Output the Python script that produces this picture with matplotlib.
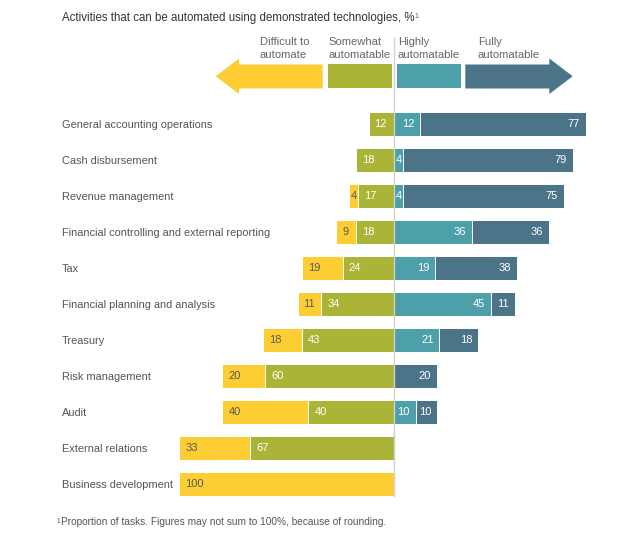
import numpy as np
import matplotlib
matplotlib.use("Agg")
import matplotlib.pyplot as plt
from matplotlib.patches import Polygon, Rectangle

plt.rcParams['font.family'] = ['Liberation Sans', 'DejaVu Sans']

# data
categories = ["General accounting operations", "Cash disbursement", "Revenue management",
              "Financial controlling and external reporting", "Tax",
              "Financial planning and analysis", "Treasury", "Risk management", "Audit",
              "External relations", "Business development"]
difficult = [0, 0, 4, 9, 19, 11, 18, 20, 40, 33, 100]
somewhat = [12, 18, 17, 18, 24, 34, 43, 60, 40, 67, 0]
highly = [12, 4, 4, 36, 19, 45, 21, 0, 10, 0, 0]
fully = [77, 79, 75, 36, 38, 11, 18, 20, 10, 0, 0]

col_diff = "#fcce33"
col_some = "#aab436"
col_high = "#4d9faa"
col_full = "#4b7489"

title = "Activities that can be automated using demonstrated technologies, %"
footnote = "Proportion of tasks. Figures may not sum to 100%, because of rounding."

# layout: 2.15 px per percentage point, zero line at x=394 px, rows 36 px apart
X0, PXU = 394.3, 2.15
Y0, ROW = 124.3, 36.0
W, H = 623, 541


def px2x(px):
    return (px - X0) / PXU


def px2y(py):
    return (py - Y0) / ROW


fig = plt.figure(figsize=(W / 100, H / 100), dpi=100)
ax = fig.add_axes([0, 0, 1, 1])
ax.set_xlim(px2x(0), px2x(W))
ax.set_ylim(px2y(H), px2y(0))
ax.axis('off')

y = np.arange(len(categories))
diff = np.array(difficult)
some = np.array(somewhat)
high = np.array(highly)
full = np.array(fully)
bh = 24 / ROW

# center line
ax.plot([0, 0], [px2y(38), px2y(496)], color="#d0d0d0", lw=1, zorder=2.5)

kw = dict(height=bh, edgecolor="white", linewidth=0.7, zorder=2)
ax.barh(y, -some, left=0, color=col_some, **kw)
ax.barh(y, -diff, left=-some, color=col_diff, **kw)
ax.barh(y, high, left=0, color=col_high, **kw)
ax.barh(y, full, left=high, color=col_full, **kw)

pad = 6 / PXU
fs = 8.0


def seg_label(val, start, end, yy, color, side):
    if val == 0:
        return
    width = abs(end - start)
    if width * PXU < 14:
        ax.text((start + end) / 2, yy, str(val), ha='center', va='center',
                fontsize=fs, color=color, zorder=3)
    elif side == 'left':
        ax.text(min(start, end) + pad, yy, str(val), ha='left', va='center',
                fontsize=fs, color=color, zorder=3)
    else:
        ax.text(max(start, end) - pad, yy, str(val), ha='right', va='center',
                fontsize=fs, color=color, zorder=3)


for i in range(len(categories)):
    seg_label(diff[i], -some[i] - diff[i], -some[i], y[i], "#5a5a5a", 'left')
    seg_label(some[i], -some[i], 0, y[i], "white", 'left')
    seg_label(high[i], 0, high[i], y[i], "white", 'right')
    seg_label(full[i], high[i], high[i] + full[i], y[i], "white", 'right')
    ax.text(px2x(62), y[i] + 0.03, categories[i], ha='left', va='center',
            fontsize=7.9, color="#555555")

# header arrows (legend)
yt, yb = px2y(58.5), px2y(94)
bt, bb = px2y(64.5), px2y(88.5)
ax.add_patch(Polygon([[px2x(215.7), (yt + yb) / 2], [px2x(239), yt], [px2x(239), bt],
                      [px2x(322.7), bt], [px2x(322.7), bb], [px2x(239), bb],
                      [px2x(239), yb]], closed=True, color=col_diff, lw=0))
ax.add_patch(Rectangle((px2x(327.7), bt), px2x(391.7) - px2x(327.7), bb - bt,
                       color=col_some, lw=0))
ax.add_patch(Rectangle((px2x(396.7), bt), px2x(460.7) - px2x(396.7), bb - bt,
                       color=col_high, lw=0))
ax.add_patch(Polygon([[px2x(465.3), bt], [px2x(549.3), bt], [px2x(549.3), yt],
                      [px2x(572.7), (yt + yb) / 2], [px2x(549.3), yb], [px2x(549.3), bb],
                      [px2x(465.3), bb]], closed=True, color=col_full, lw=0))

head_labels = ["Difficult to\nautomate", "Somewhat\nautomatable", "Highly\nautomatable",
               "Fully\nautomatable"]
head_x = [260, 328.7, 398, 477.7]
for lab, hx in zip(head_labels, head_x):
    ax.text(px2x(hx), px2y(37), lab, ha='left', va='top', fontsize=8.1,
            color="#666666", linespacing=1.35)

t = ax.text(px2x(62), px2y(18), title, ha='left', va='center', fontsize=8.3,
            color="#333333")
ax.annotate("1", xy=(1, 1), xycoords=t, xytext=(-0.3, -1), textcoords='offset points',
            ha='left', va='top', fontsize=5, color="#555555")

f = ax.text(px2x(61), px2y(522), footnote, ha='left', va='center', fontsize=7.3,
            color="#555555")
ax.annotate("1", xy=(0, 1), xycoords=f, xytext=(-0.3, -0.5), textcoords='offset points',
            ha='right', va='top', fontsize=4.8, color="#555555")

fig.savefig("out.png", dpi=100)
